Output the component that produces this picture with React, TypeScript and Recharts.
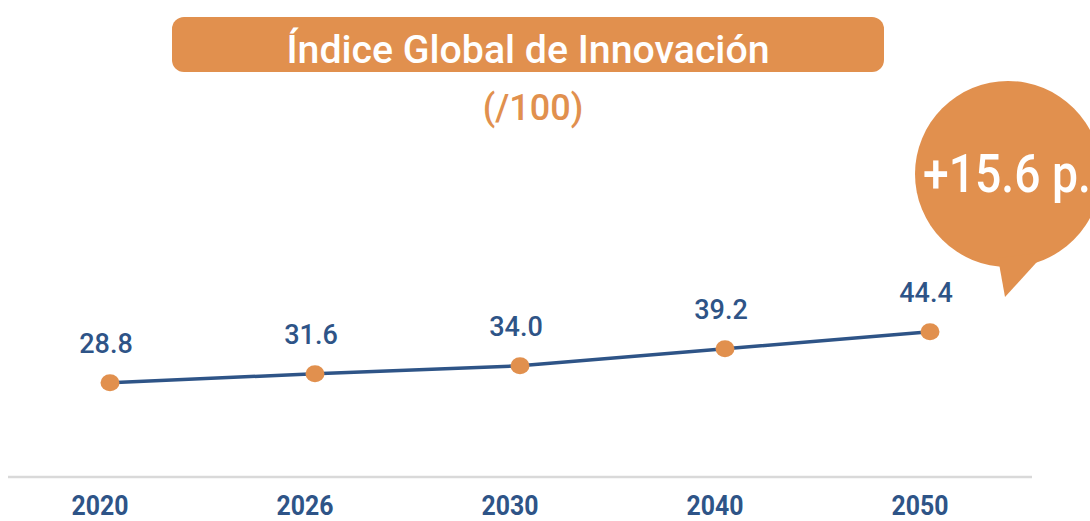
import { LineChart, Line, XAxis, YAxis, LabelList } from "recharts";

const years = ["2020", "2026", "2030", "2040", "2050"];
const scores = [28.8, 31.6, 34.0, 39.2, 44.4];
const yDomain = [0, 100];
const titleText = "Índice Global de Innovación";
const unitText = "(/100)";
const deltaText = "+15.6 p.";

const data = years.map((year, i) => ({ year, score: scores[i] }));

const ORANGE = "#E1904E";
const BLUE = "#2E5487";
const FONT = "Roboto, 'Open Sans', sans-serif";

function YearTick(props: any) {
  const { x, y, payload } = props;
  return (
    <text x={x - 10} y={y + 30} textAnchor="middle" fill={BLUE} fontFamily={FONT} fontSize={28} fontWeight={700} textLength={57} lengthAdjust="spacingAndGlyphs">
      {payload.value}
    </text>
  );
}

function Dot(props: any) {
  const { cx, cy, index } = props;
  return <ellipse key={`dot-${index}`} cx={cx} cy={cy} rx={9.5} ry={8.5} fill={ORANGE} />;
}

function ValueLabel(props: any) {
  const { x, y, value } = props;
  return (
    <text x={x - 4} y={y - 30} textAnchor="middle" fill={BLUE} fontFamily={FONT} fontSize={27} fontWeight={500}>
      {Number(value).toFixed(1)}
    </text>
  );
}

export default function App() {
  return (
    <div style={{ position: "absolute", left: 0, top: 0, width: 1090, height: 521, background: "#fff", overflow: "hidden" }}>
      <LineChart width={1090} height={521} data={data} margin={{ top: 150, right: 58, bottom: 0, left: 8 }}>
        <YAxis hide domain={yDomain} />
        <XAxis
          dataKey="year"
          height={44}
          padding={{ left: 102, right: 102 }}
          axisLine={{ stroke: "#D9D9D9", strokeWidth: 2.5 }}
          tickLine={false}
          tick={<YearTick />}
          interval={0}
        />
        <Line
          type="linear"
          dataKey="score"
          stroke={BLUE}
          strokeWidth={3.5}
          dot={<Dot />}
          activeDot={false}
          isAnimationActive={false}
        >
          <LabelList dataKey="score" content={<ValueLabel />} />
        </Line>
      </LineChart>
      <svg width={1090} height={521} style={{ position: "absolute", left: 0, top: 0, pointerEvents: "none" }}>
        <rect x={172} y={17} width={712} height={55} rx={12} fill={ORANGE} />
        <text x={528} y={63} textAnchor="middle" fill="#fff" fontFamily={FONT} fontSize={39} fontWeight={500} textLength={483} lengthAdjust="spacingAndGlyphs">
          {titleText}
        </text>
        <text x={533} y={120} textAnchor="middle" fill={ORANGE} fontFamily={FONT} fontSize={36} fontWeight={500}>
          {unitText}
        </text>
        <circle cx={1008} cy={174} r={93} fill={ORANGE} />
        <polygon points="998,258 1005,297 1046,252" fill={ORANGE} />
        <text x={923} y={192} fill="#fff" fontFamily={FONT} fontSize={54} fontWeight={500} textLength={168} lengthAdjust="spacingAndGlyphs">
          {deltaText}
        </text>
      </svg>
    </div>
  );
}
